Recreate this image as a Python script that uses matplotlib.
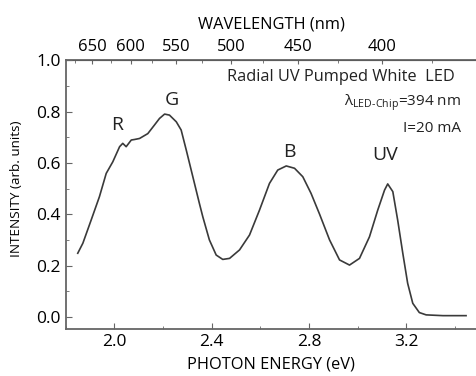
import numpy as np
import matplotlib.pyplot as plt

plt.rcParams['font.family'] = ['Open Sans', 'DejaVu Sans']
plt.rcParams['mathtext.fontset'] = 'custom'
plt.rcParams['mathtext.rm'] = 'Open Sans'

# spectrum (photon energy in eV, intensity in arb. units)
energy = [1.849, 1.870, 1.904, 1.938, 1.966, 1.993, 2.021, 2.034, 2.048, 2.069,
          2.082, 2.103, 2.137, 2.164, 2.185, 2.206, 2.226, 2.254, 2.274, 2.295,
          2.322, 2.349, 2.363, 2.390, 2.418, 2.445, 2.473, 2.514, 2.555, 2.596,
          2.637, 2.671, 2.706, 2.740, 2.774, 2.808, 2.843, 2.884, 2.925, 2.966,
          3.007, 3.048, 3.082, 3.110, 3.123, 3.144, 3.164, 3.185, 3.205, 3.226,
          3.253, 3.281, 3.35, 3.445]
intensity = [0.248, 0.287, 0.377, 0.468, 0.559, 0.604, 0.663, 0.676, 0.663, 0.689,
             0.691, 0.695, 0.714, 0.747, 0.773, 0.790, 0.786, 0.760, 0.728, 0.650,
             0.546, 0.442, 0.390, 0.300, 0.241, 0.224, 0.228, 0.261, 0.319, 0.416,
             0.520, 0.572, 0.588, 0.579, 0.546, 0.481, 0.400, 0.300, 0.222, 0.202,
             0.228, 0.312, 0.416, 0.494, 0.518, 0.488, 0.377, 0.248, 0.131, 0.053,
             0.017, 0.008, 0.005, 0.005]

peak_names = ['R', 'G', 'B', 'UV']
peak_pos = [(2.012, 0.747), (2.234, 0.844), (2.719, 0.642), (3.114, 0.63)]

wl_ticks = [650, 600, 550, 500, 450, 400]
wl_minor = np.arange(375, 700, 25)

HC = 1239.84

fig = plt.figure(figsize=(4.77, 3.76), dpi=100)
ax = fig.add_axes([0.138, 0.125, 0.862, 0.715])

ax.plot(energy, intensity, color='#3a3a3a', lw=1.2)

for name, (x, y) in zip(peak_names, peak_pos):
    ax.text(x, y, name, fontsize=14, ha='center', va='center', color='#222222')

ax.text(3.397, 0.934, 'Radial UV Pumped White  LED', ha='right', va='center',
        fontsize=11.8, color='#222222')
ax.text(3.426, 0.833, 'λ$_{\\mathrm{LED\\text{-}Chip}}$=394 nm', ha='right', va='center',
        fontsize=11, color='#222222')
ax.text(3.426, 0.735, 'I=20 mA', ha='right', va='center', fontsize=11, color='#222222')

ax.set_xlim(1.8, 3.49)
ax.set_ylim(-0.047, 1.0)
ax.set_xticks([2.0, 2.4, 2.8, 3.2])
ax.set_xticks(np.arange(1.8, 3.5, 0.2), minor=True)
ax.set_yticks(np.arange(0, 1.01, 0.2))
ax.set_yticks(np.arange(0, 1.01, 0.1), minor=True)
ax.xaxis.set_major_formatter(plt.FormatStrFormatter('%.1f'))
ax.yaxis.set_major_formatter(plt.FormatStrFormatter('%.1f'))
ax.tick_params(which='both', direction='in', color='#666666', labelsize=12.5)
ax.tick_params(which='major', length=4)
ax.tick_params(which='minor', length=2)
ax.spines['right'].set_visible(False)
for s in ['left', 'bottom', 'top']:
    ax.spines[s].set_color('#666666')
    ax.spines[s].set_linewidth(1.3)

ax.set_xlabel('PHOTON ENERGY (eV)', fontsize=11.8, labelpad=5)
ax.set_ylabel('INTENSITY (arb. units)', fontsize=9.7, labelpad=5)
ax.yaxis.set_label_coords(-0.105, 0.52)

top = ax.secondary_xaxis('top', functions=(lambda e: HC / e, lambda l: HC / l))
top.set_xticks(wl_ticks)
top.set_xticks(wl_minor, minor=True)
top.tick_params(which='both', direction='in', color='#666666', labelsize=12)
top.tick_params(which='major', length=3)
top.tick_params(which='minor', length=2)
top.set_xlabel('WAVELENGTH (nm)', fontsize=11.8, labelpad=8)

fig.savefig('out.png', dpi=100)
